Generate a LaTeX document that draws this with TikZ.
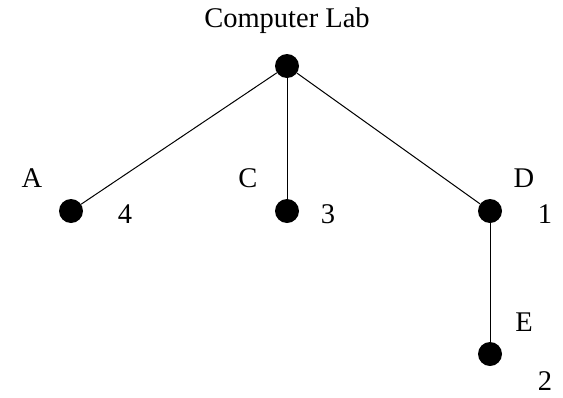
\documentclass[tikz,border=0pt]{standalone}
\usepackage{fontspec}
\setmainfont{Liberation Serif}
\begin{document}
\begin{tikzpicture}[x=1pt,y=-1pt,
  vertex/.style={circle,fill=black,minimum size=24pt,inner sep=0pt},
  lbl/.style={font=\fontsize{28.5}{32}\selectfont,inner sep=0pt},
  edge/.style={line width=1pt}]
\useasboundingbox (0,0) rectangle (563,397);
\node[vertex] (lab) at (287,66) {};
\node[vertex] (a) at (71,211) {};
\node[vertex] (c) at (287,211) {};
\node[vertex] (d) at (490,211) {};
\node[vertex] (e) at (490,354) {};
\draw[edge] (lab) -- (a);
\draw[edge] (lab) -- (c);
\draw[edge] (lab) -- (d);
\draw[edge] (d) -- (e);
\node[lbl] (tlab) at (287,21) {Computer Lab};
\node[lbl] (ta) at (32,178) {A};
\node[lbl] (na) at (125,214) {4};
\node[lbl] (tc) at (248,178) {C};
\node[lbl] (nc) at (328,214) {3};
\node[lbl] (td) at (524,178) {D};
\node[lbl] (nd) at (545,214) {1};
\node[lbl] (te) at (524,322) {E};
\node[lbl] (ne) at (545,381) {2};
\end{tikzpicture}
\end{document}
